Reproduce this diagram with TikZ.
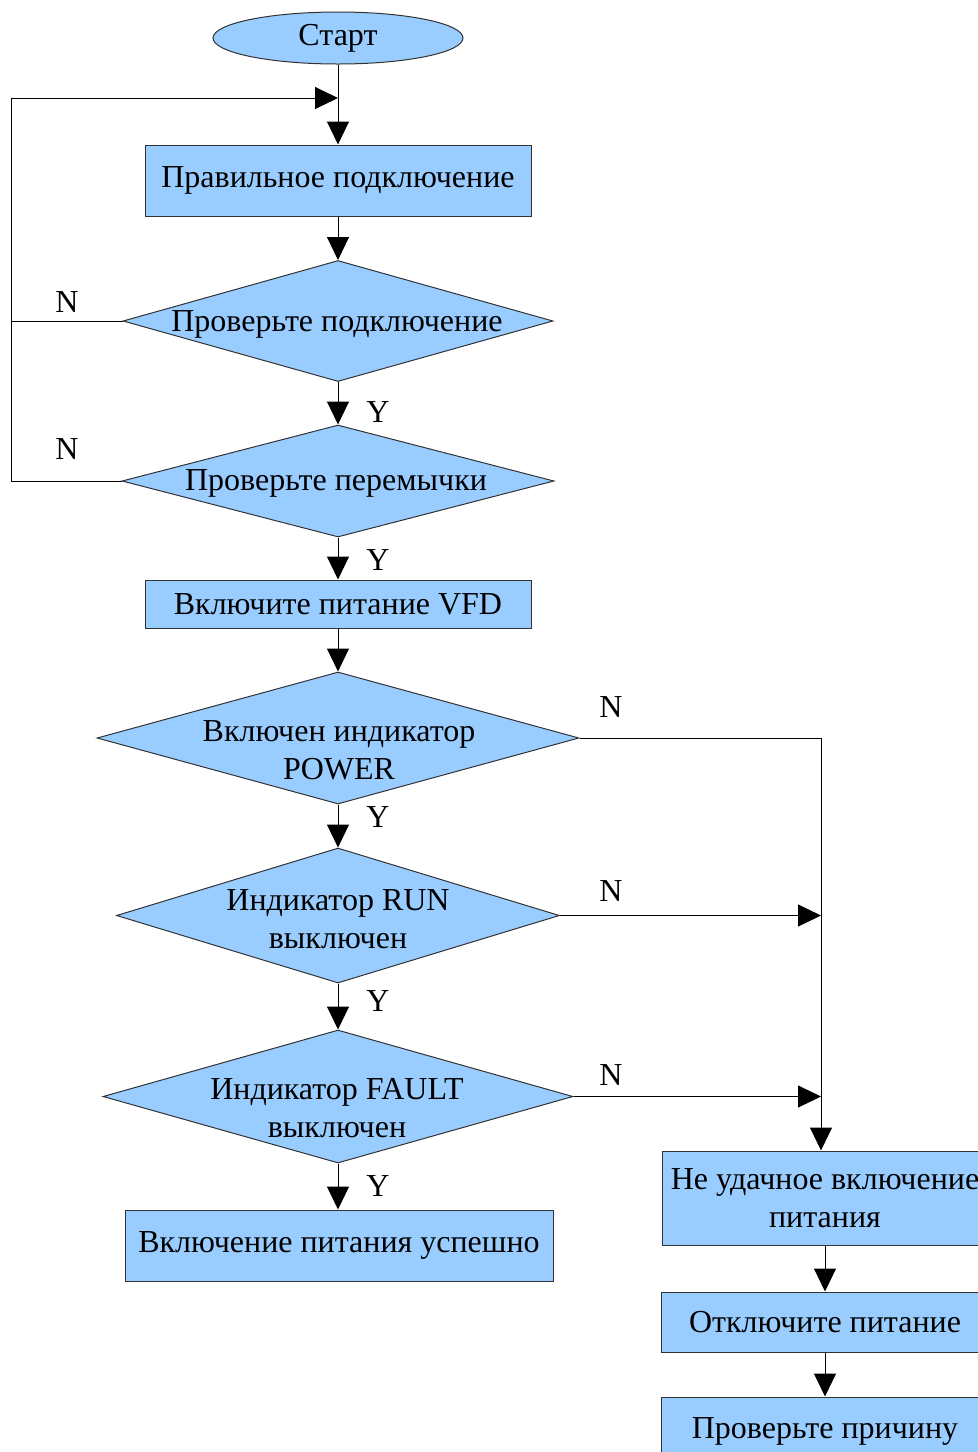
\documentclass[tikz,border=0pt]{standalone}
\usepackage{fontspec}
\setmainfont{Liberation Serif}
\usetikzlibrary{shapes.geometric,arrows.meta}
\definecolor{fillblue}{HTML}{99CCFF}
\definecolor{edgegray}{HTML}{333333}
\begin{document}
\begin{tikzpicture}[x=0.5pt,y=-0.5pt,
  every node/.style={font=\fontsize{16pt}{19pt}\selectfont, inner sep=0pt},
  stepbox/.style={rectangle, draw=edgegray, fill=fillblue, line width=0.5pt, align=center},
  dia/.style={diamond, draw=edgegray, fill=fillblue, line width=0.5pt},
  oval/.style={ellipse, draw=edgegray, fill=fillblue, line width=0.5pt},
  txt/.style={align=center},
  conn/.style={line width=0.5pt, draw=black},
  arr/.style={conn, -{Triangle[length=11.5pt,width=11pt]}}]
\useasboundingbox (0,0) rectangle (978,1452);

% nodes
\node[oval, minimum width=125pt, minimum height=26pt] (start) at (338,38) {Старт};
\node[stepbox, minimum width=193pt, minimum height=35.5pt] (b1) at (338,180.5) {Правильное подключение};
\node[dia, minimum width=215pt, minimum height=60.5pt] (d1) at (338,321) {};
\node[txt] (t1) at (337,324) {Проверьте подключение};
\node[dia, minimum width=216pt, minimum height=56pt] (d2) at (338,481) {};
\node[txt] (t2) at (336,483) {Проверьте перемычки};
\node[stepbox, minimum width=193pt, minimum height=24pt] (b2) at (338,604) {Включите питание VFD};
\node[dia, minimum width=241pt, minimum height=66pt] (d3) at (338,738) {};
\node[txt] (t3) at (339,750) {Включен индикатор\\POWER};
\node[dia, minimum width=221.5pt, minimum height=67.5pt] (d4) at (338,915.5) {};
\node[txt] (t4) at (338,919) {Индикатор RUN\\выключен};
\node[dia, minimum width=235pt, minimum height=66.5pt] (d5) at (338,1096.5) {};
\node[txt] (t5) at (337,1108) {Индикатор FAULT\\выключен};
\node[stepbox, minimum width=214pt, minimum height=35.5pt] (ok) at (339,1245.5) {Включение питания успешно};
\node[stepbox, minimum width=163pt, minimum height=47pt] (fail) at (825,1198) {Не удачное включение\\питания};
\node[stepbox, minimum width=163.5pt, minimum height=30pt] (off) at (825,1322) {Отключите питание};
\node[stepbox, minimum width=163.5pt, minimum height=34pt] (cause) at (825,1431) {Проверьте причину};

% labels
\node (n1) at (67,302) {N};
\node (n2) at (67,449) {N};
\node (n3) at (611,707) {N};
\node (n4) at (611,891) {N};
\node (n5) at (611,1075) {N};
\node (y1) at (378,412) {Y};
\node (y2) at (378,560) {Y};
\node (y3) at (378,817) {Y};
\node (y4) at (378,1001) {Y};
\node (y5) at (378,1186) {Y};

% helper coordinates
\coordinate (join) at (338,98);
\coordinate (L1) at (11,98);
\coordinate (L2) at (11,321);
\coordinate (L3) at (11,481);
\coordinate (R1) at (821,738);
\coordinate (R2) at (821,915.5);
\coordinate (R3) at (821,1096.5);

% connectors
\draw[arr] (start.south) -- (b1.north);
\draw[arr] (b1.south) -- (d1.north);
\draw[arr] (d1.south) -- (d2.north);
\draw[arr] (d2.south) -- (b2.north);
\draw[arr] (b2.south) -- (d3.north);
\draw[arr] (d3.south) -- (d4.north);
\draw[arr] (d4.south) -- (d5.north);
\draw[arr] (d5.south) -- (ok.north -| d5.south);
\draw[conn] (d1.west) -- (L2);
\draw[arr] (d2.west) -- (L3) -- (L1) -- (join);
\draw[arr] (d3.east) -- (R1) -- (R1 |- fail.north);
\draw[arr] (d4.east) -- (R2);
\draw[arr] (d5.east) -- (R3);
\draw[arr] (fail.south) -- (off.north);
\draw[arr] (off.south) -- (cause.north);
\end{tikzpicture}
\end{document}
